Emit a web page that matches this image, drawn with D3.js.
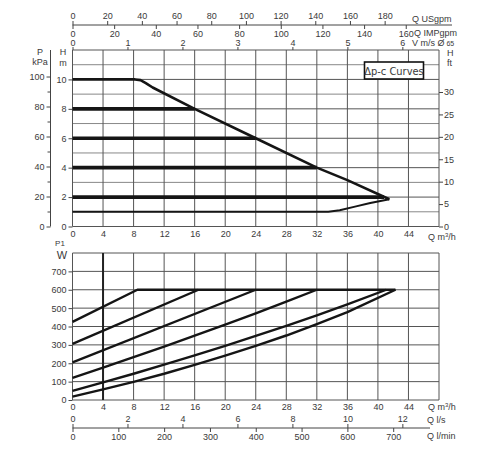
<!DOCTYPE html>
<html>
<head>
<meta charset="utf-8">
<script src="https://cdn.jsdelivr.net/npm/d3@7"></script>
<style>
  body { margin: 0; background: #fff; }
  svg text { font-family: "Liberation Sans", Arial, sans-serif; fill: #3a3a3a; }
  .tick text { font-size: 9px; }
  .grid line { stroke: #555; stroke-width: 1; }
</style>
</head>
<body>
<div id="chart"></div>
<script>
// Top chart: max curve (m) vs Q (m3/h)
const maxQ = [0, 8.2, 8.9, 9.6, 10.5, 16, 24, 32, 36, 41.5];
const maxH = [10, 10, 9.95, 9.75, 9.45, 8, 6, 4, 3.15, 1.85];
// constant-pressure settings and where they meet the max curve
const dpLevels = [8, 6, 4, 2];
const dpEndQ = [16, 24, 32, 40.8];
// minimum curve
const minQ = [0, 33.5, 35, 37, 39, 41.5];
const minH = [1, 1, 1.1, 1.35, 1.6, 1.85];

// Bottom chart: P1 (W) for each setting
const powerQ10 = [0, 8.5, 42.3];
const powerP10 = [425, 600, 600];
const powerQ8 = [0, 16.5];
const powerP8 = [305, 600];
const powerQ6 = [0, 24];
const powerP6 = [205, 600];
const powerQ4 = [0, 4, 8, 12, 16, 20, 24, 28, 32];
const powerP4 = [120, 176, 233, 291, 350, 410, 472, 535, 600];
const powerQ2 = [0, 4, 8, 12, 16, 20, 24, 28, 32, 36, 41.1];
const powerP2 = [50, 96, 143, 192, 243, 295, 349, 404, 461, 520, 600];
const powerQ1 = [0, 4, 8, 12, 16, 20, 24, 28, 32, 36, 42.3];
const powerP1 = [18, 58, 99, 143, 191, 241, 294, 351, 413, 478, 600];

// tick labels
const qTicks = [0, 4, 8, 12, 16, 20, 24, 28, 32, 36, 40, 44];
const hTicks = [0, 2, 4, 6, 8, 10];
const kpaTicks = [0, 20, 40, 60, 80, 100];
const kpaMinor = [10, 30, 50, 70, 90];
const ftTicks = [0, 5, 10, 15, 20, 25, 30];
const usTicks = [0, 20, 40, 60, 80, 100, 120, 140, 160, 180];
const impTicks = [0, 20, 40, 60, 80, 100, 120, 140, 160];
const vTicks = [0, 1, 2, 3, 4, 5, 6];
const wTicks = [0, 100, 200, 300, 400, 500, 600, 700];
const lsTicks = [0, 2, 4, 6, 8, 10, 12];
const lminTicks = [0, 100, 200, 300, 400, 500, 600, 700];

const svg = d3.select("#chart").append("svg")
  .attr("width", 500)
  .attr("height", 450);

// scales
const x = d3.scaleLinear().domain([0, 48]).range([72.5, 439]);
const yH = d3.scaleLinear().domain([0, 12]).range([226.5, 50]);
const yKpa = d3.scaleLinear().domain([0, 12 / 0.10197]).range([226.5, 50]);
const yFt = d3.scaleLinear().domain([0, 12 * 3.2808]).range([226.5, 50]);
const xUs = d3.scaleLinear().domain([0, 48 * 4.403]).range(x.range());
const xImp = d3.scaleLinear().domain([0, 48 * 3.666]).range(x.range());
const xV = d3.scaleLinear().domain([0, 48 / 7.2]).range(x.range());
const yW = d3.scaleLinear().domain([0, 800]).range([400, 253]);
const xLs = d3.scaleLinear().domain([0, 48 / 3.6]).range(x.range());
const xLmin = d3.scaleLinear().domain([0, 48 * 1000 / 60]).range(x.range());
const fmt = d3.format("d");

const cleanAxis = g => g.select(".domain").remove();

// grids
const gridTop = svg.append("g").attr("class", "grid");
gridTop.selectAll("line.h").data(d3.range(0, 13)).enter().append("line")
  .attr("x1", x(0)).attr("x2", x(48))
  .attr("y1", d => yH(d)).attr("y2", d => yH(d))
  .attr("stroke-opacity", d => d % 2 ? 0.7 : 1);
gridTop.selectAll("line.v").data(d3.range(0, 49, 4)).enter().append("line")
  .attr("x1", d => x(d)).attr("x2", d => x(d))
  .attr("y1", yH(0)).attr("y2", yH(12));

const gridBot = svg.append("g").attr("class", "grid");
gridBot.selectAll("line.h").data(d3.range(0, 801, 100)).enter().append("line")
  .attr("x1", x(0)).attr("x2", x(48))
  .attr("y1", d => yW(d)).attr("y2", d => yW(d));
gridBot.selectAll("line.v").data(d3.range(0, 49, 4)).enter().append("line")
  .attr("x1", d => x(d)).attr("x2", d => x(d))
  .attr("y1", yW(0)).attr("y2", yW(800));

// heavier line at 4 m3/h in the power chart
svg.append("line")
  .attr("x1", x(4)).attr("x2", x(4))
  .attr("y1", yW(0)).attr("y2", yW(800))
  .attr("stroke", "#222").attr("stroke-width", 2);

// axes top chart
svg.append("g").attr("transform", `translate(${x(0)},0)`)
  .call(d3.axisLeft(yH).tickValues(hTicks).tickSize(4).tickPadding(2))
  .call(cleanAxis);

const kpaAxis = svg.append("g").attr("transform", "translate(50.5,0)")
  .call(d3.axisLeft(yKpa).tickValues(kpaTicks).tickSize(4).tickPadding(2));
kpaAxis.select(".domain").attr("d", `M0,${yH(0)}V${yH(12)}`);
svg.append("g").attr("transform", "translate(50.5,0)")
  .call(d3.axisLeft(yKpa).tickValues(kpaMinor).tickSize(3).tickFormat(""))
  .call(cleanAxis);

svg.append("g").attr("transform", `translate(${x(48)},0)`)
  .call(d3.axisRight(yFt).tickValues(ftTicks).tickSize(4).tickPadding(1))
  .call(cleanAxis);

svg.append("g").attr("transform", `translate(0,${yH(0)})`)
  .call(d3.axisBottom(x).tickValues(qTicks).tickSize(0).tickPadding(4))
  .call(cleanAxis);

// flow scales above
const usAxis = svg.append("g").attr("transform", "translate(0,25)")
  .call(d3.axisTop(xUs).tickValues(usTicks).tickSize(4).tickPadding(2).tickFormat(fmt));
usAxis.select(".domain").attr("d", `M${x(0)},0H452`);
svg.append("g").attr("transform", "translate(0,25)")
  .call(d3.axisBottom(xImp).tickValues(impTicks).tickSize(4).tickPadding(2).tickFormat(fmt))
  .call(cleanAxis);
svg.append("g").attr("transform", "translate(0,50)")
  .call(d3.axisTop(xV).tickValues(vTicks).tickSize(3).tickPadding(1).tickFormat(fmt))
  .call(cleanAxis);

// axes bottom chart
svg.append("g").attr("transform", `translate(${x(0)},0)`)
  .call(d3.axisLeft(yW).tickValues(wTicks).tickSize(4).tickPadding(2))
  .call(cleanAxis);
svg.append("g").attr("transform", `translate(0,${yW(0)})`)
  .call(d3.axisBottom(x).tickValues(qTicks).tickSize(0).tickPadding(4))
  .call(cleanAxis);

const lsAxis = svg.append("g").attr("transform", "translate(0,428)")
  .call(d3.axisTop(xLs).tickValues(lsTicks).tickSize(4).tickPadding(2).tickFormat(fmt));
lsAxis.select(".domain").attr("d", `M${x(0)},0H430`);
svg.append("g").attr("transform", "translate(0,428)")
  .call(d3.axisBottom(xLmin).tickValues(lminTicks).tickSize(4).tickPadding(2).tickFormat(fmt))
  .call(cleanAxis);

svg.selectAll(".tick line").attr("stroke", "#444");
svg.selectAll(".domain").attr("stroke", "#444");

// curves
const lineH = d3.line().x(d => x(d[0])).y(d => yH(d[1]));
const lineW = d3.line().x(d => x(d[0])).y(d => yW(d[1]));

dpLevels.forEach((h, i) => {
  svg.append("path")
    .attr("d", lineH([[0, h], [dpEndQ[i], h]]))
    .attr("fill", "none").attr("stroke", "#151515").attr("stroke-width", 3.6);
});
svg.append("path")
  .attr("d", lineH(d3.zip(maxQ, maxH)))
  .attr("fill", "none").attr("stroke", "#151515").attr("stroke-width", 2.6)
  .attr("stroke-linejoin", "round");
svg.append("path")
  .attr("d", lineH(d3.zip(minQ, minH)))
  .attr("fill", "none").attr("stroke", "#151515").attr("stroke-width", 2)
  .attr("stroke-linejoin", "round");

const powerSeries = [
  [powerQ10, powerP10], [powerQ8, powerP8], [powerQ6, powerP6],
  [powerQ4, powerP4], [powerQ2, powerP2], [powerQ1, powerP1]
];
powerSeries.forEach(s => {
  svg.append("path")
    .attr("d", lineW(d3.zip(s[0], s[1])))
    .attr("fill", "none").attr("stroke", "#151515").attr("stroke-width", 2.4)
    .attr("stroke-linejoin", "round");
});

// labels
const label = (t, px, py, size, anchor) => svg.append("text")
  .attr("x", px).attr("y", py)
  .attr("font-size", size || 9)
  .attr("text-anchor", anchor || "start")
  .text(t);

label("P", 40, 55, 9, "middle");
label("kPa", 40, 65, 9, "middle");
label("H", 63, 55, 9, "middle");
label("m", 63, 66, 9, "middle");
label("H", 447, 56, 9, "start");
label("ft", 447, 66, 9, "start");
label("Q USgpm", 412, 22, 9);
label("Q IMPgpm", 414, 36, 9);
const vLab = label("V m/s Ø", 412, 46, 9);
vLab.append("tspan").attr("font-size", 7).text(" 65");

const qm3 = label("Q m", 428, 240, 9);
qm3.append("tspan").attr("font-size", 6).attr("dy", -3).text("3");
qm3.append("tspan").attr("dy", 3).text("/h");
const qm3b = label("Q m", 428, 410, 9);
qm3b.append("tspan").attr("font-size", 6).attr("dy", -3).text("3");
qm3b.append("tspan").attr("dy", 3).text("/h");

label("P1", 60, 246, 8, "middle");
label("W", 62, 259, 11, "middle");
label("Q l/s", 427, 423, 9);
label("Q l/min", 427, 439, 9);

// legend box
svg.append("rect")
  .attr("x", 364.5).attr("y", 62).attr("width", 59).attr("height", 17)
  .attr("fill", "#fff").attr("stroke", "#111").attr("stroke-width", 1.6);
svg.append("text")
  .attr("x", 394).attr("y", 75)
  .attr("text-anchor", "middle")
  .attr("font-size", 11)
  .style("font-family", "'Liberation Sans Narrow', 'DejaVu Sans Condensed', sans-serif")
  .text("Δp-c Curves");
</script>
</body>
</html>
